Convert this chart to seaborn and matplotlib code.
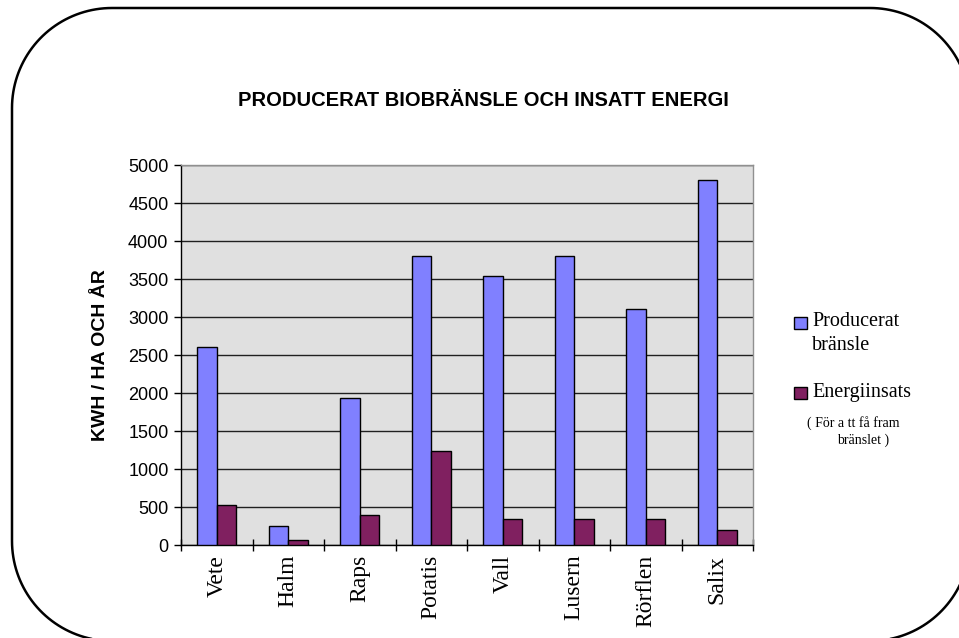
import matplotlib
matplotlib.use("Agg")
import matplotlib.pyplot as plt
from matplotlib.patches import PathPatch, Rectangle
from matplotlib.path import Path
from matplotlib.ticker import FixedLocator
import seaborn as sns
import pandas as pd
import numpy as np

# Grödor och energibalans (kWh per hektar och år)
grodor = ["Vete", "Halm", "Raps", "Potatis", "Vall", "Lusern", "Rörflen", "Salix"]
producerat = [2600, 250, 1930, 3800, 3540, 3800, 3100, 4800]
energiinsats = [530, 60, 390, 1240, 345, 345, 345, 200]
y_ticks = [0, 500, 1000, 1500, 2000, 2500, 3000, 3500, 4000, 4500, 5000]

serie_prod = "Producerat bränsle"
serie_ins = "Energiinsats"

df = pd.DataFrame({
    "Gröda": grodor * 2,
    "kWh": producerat + energiinsats,
    "Serie": [serie_prod] * len(grodor) + [serie_ins] * len(grodor),
})

sns.set_theme(style="white")
plt.rcParams["font.family"] = ["Liberation Sans", "DejaVu Sans"]
for key in ["text.color", "axes.labelcolor", "xtick.color", "ytick.color"]:
    plt.rcParams[key] = "black"

W, H = 959, 638
fig = plt.figure(figsize=(W / 100, H / 100), dpi=100)
fig.patch.set_facecolor("white")

# Överlagrad yta i pixelkoordinater för ram och teckenförklaring
frame_ax = fig.add_axes([0, 0, 1, 1])
frame_ax.set_xlim(0, W)
frame_ax.set_ylim(H, 0)
frame_ax.axis("off")
frame_ax.patch.set_visible(False)


def rounded_rect(x0, y0, x1, y1, r, n=40):
    """Sluten rektangel med cirkelrundade hörn (y nedåt)."""
    pts = []
    corners = [
        (x1 - r, y0 + r, -90, 0),    # övre höger
        (x1 - r, y1 - r, 0, 90),     # nedre höger
        (x0 + r, y1 - r, 90, 180),   # nedre vänster
        (x0 + r, y0 + r, 180, 270),  # övre vänster
    ]
    for cx, cy, a0, a1 in corners:
        t = np.radians(np.linspace(a0, a1, n))
        pts.extend(zip(cx + r * np.cos(t), cy + r * np.sin(t)))
    pts.append(pts[0])
    codes = [Path.MOVETO] + [Path.LINETO] * (len(pts) - 2) + [Path.CLOSEPOLY]
    return Path(pts, codes)


frame_ax.add_patch(PathPatch(rounded_rect(12, 8, 970, 641, 100),
                             facecolor="none", edgecolor="black", linewidth=1.8))

# Diagramytan
left, right, top, bottom = 181, 753, 165, 545
ax = fig.add_axes([left / W, (H - bottom) / H, (right - left) / W, (bottom - top) / H])
ax.set_facecolor("#E0E0E0")

blue = "#8080FF"
purple = "#802060"
sns.barplot(data=df, x="Gröda", y="kWh", hue="Serie", order=grodor,
            hue_order=[serie_prod, serie_ins], palette=[blue, purple],
            width=0.55, edgecolor="black", linewidth=1, saturation=1,
            legend=False, ax=ax, zorder=3)

ax.set_ylim(0, 5000)
ax.set_xlim(-0.5, len(grodor) - 0.5)
ax.yaxis.set_major_locator(FixedLocator(y_ticks))
ax.yaxis.grid(True, color="#202020", linewidth=1, zorder=0)
ax.set_axisbelow(True)

for s in ["top", "right"]:
    ax.spines[s].set_color("#909090")
    ax.spines[s].set_linewidth(1)
for s in ["left", "bottom"]:
    ax.spines[s].set_color("black")
    ax.spines[s].set_linewidth(1)

ax.tick_params(axis="y", which="major", direction="out", length=5, width=1,
               color="black", left=True, labelsize=13, pad=4)
ax.set_yticklabels([str(v) for v in y_ticks], fontfamily="Liberation Sans")

# Kategorinamn utan streck, streck mellan kategorierna
ax.set_xticks(range(len(grodor)))
ax.set_xticklabels(grodor, rotation=90, fontfamily="Liberation Serif",
                   fontsize=17, va="top")
ax.tick_params(axis="x", which="major", length=0, pad=7)
ax.set_xticks([i - 0.5 for i in range(len(grodor) + 1)], minor=True)
ax.tick_params(axis="x", which="minor", direction="inout", length=8,
               width=1, color="black", bottom=True)

ax.set_xlabel("")
ax.set_ylabel("KWH / HA OCH ÅR", fontsize=14, fontweight="bold",
              fontfamily="Liberation Sans", labelpad=14)

fig.text(483 / W, 1 - 100 / H, "PRODUCERAT BIOBRÄNSLE OCH INSATT ENERGI",
         ha="center", va="center", fontsize=14.5, fontweight="bold",
         fontfamily="Liberation Sans")

# Teckenförklaring
frame_ax.add_patch(Rectangle((794, 317), 13, 12, facecolor=blue,
                             edgecolor="black", linewidth=1))
frame_ax.add_patch(Rectangle((794, 387), 13, 12, facecolor=purple,
                             edgecolor="black", linewidth=1))
frame_ax.text(812, 322, "Producerat", ha="left", va="center",
              fontsize=14.5, fontfamily="Liberation Serif")
frame_ax.text(812, 345, "bränsle", ha="left", va="center",
              fontsize=14.5, fontfamily="Liberation Serif")
frame_ax.text(812, 392, "Energiinsats", ha="left", va="center",
              fontsize=14.5, fontfamily="Liberation Serif")
frame_ax.text(807, 423, "( För a tt få fram", ha="left", va="center",
              fontsize=10, fontfamily="Liberation Serif")
frame_ax.text(837, 440, "bränslet )", ha="left", va="center",
              fontsize=10, fontfamily="Liberation Serif")

fig.savefig("out.png", dpi=100, facecolor="white")
